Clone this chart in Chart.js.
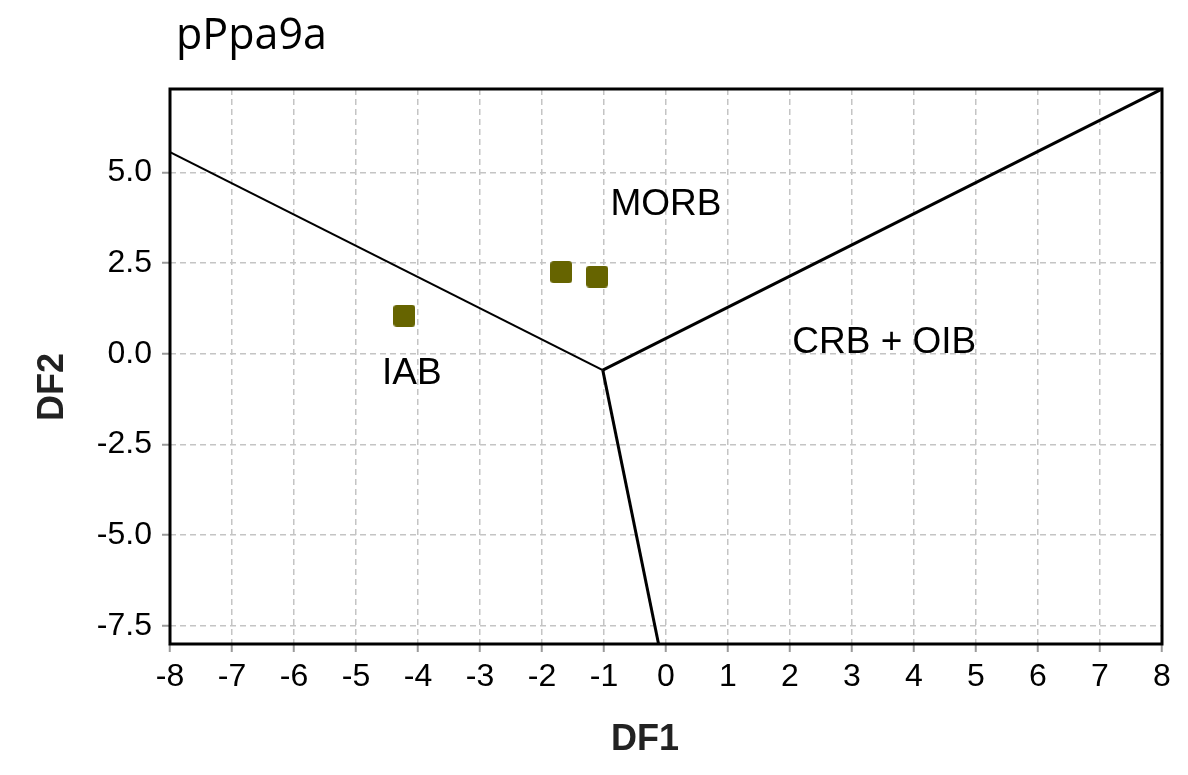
<!DOCTYPE html>
<html>
<head>
<meta charset="utf-8">
<script src="https://cdn.jsdelivr.net/npm/chart.js@4"></script>
<style>
  html, body { margin: 0; padding: 0; background: #fff; }
  canvas { display: block; }
</style>
</head>
<body>
<canvas id="myChart" width="1188" height="775"></canvas>
<script>
// samples (DF1, DF2)
var sampleDF1 = [-4.22, -1.69, -1.11];
var sampleDF2 = [1.05, 2.25, 2.13];

// field boundaries, all three meet at one junction
var junction = [-1.02, -0.45];
var boundaryLeft = [[-8, 5.56], junction];
var boundaryRight = [junction, [8, 7.3]];
var boundaryBottom = [junction, [-0.12, -8]];

// field names and where they sit (data units)
var fieldNames = ['MORB', 'IAB', 'CRB + OIB'];
var fieldX = [0.0, -4.10, 3.52];
var fieldY = [4.12, -0.56, 0.31];

var xTicks = [-8, -7, -6, -5, -4, -3, -2, -1, 0, 1, 2, 3, 4, 5, 6, 7, 8];
var yTicks = [-7.5, -5, -2.5, 0, 2.5, 5];

function toXY(pairs) {
  return pairs.map(function (p) { return { x: p[0], y: p[1] }; });
}

var samplePoints = sampleDF1.map(function (v, i) { return { x: v, y: sampleDF2[i] }; });

// small rounded square marker
var marker = document.createElement('canvas');
marker.width = 22;
marker.height = 22;
(function () {
  var m = marker.getContext('2d');
  m.fillStyle = '#666400';
  m.beginPath();
  m.roundRect(0, 0, 22, 22, 3.5);
  m.fill();
})();

var tickFont = { family: "'Liberation Sans', Arial, sans-serif", size: 32 };

var framePlugin = {
  id: 'frameAndText',
  afterDraw: function (chart) {
    var c = chart.ctx, a = chart.chartArea;
    var xs = chart.scales.x, ys = chart.scales.y;
    c.save();
    c.strokeStyle = '#000';
    c.lineWidth = 3;
    c.strokeRect(a.left, a.top, a.right - a.left, a.bottom - a.top);

    c.fillStyle = '#000';
    c.font = "37px 'Liberation Sans', Arial, sans-serif";
    c.textAlign = 'center';
    c.textBaseline = 'middle';
    fieldNames.forEach(function (n, i) {
      c.fillText(n, xs.getPixelForValue(fieldX[i]), ys.getPixelForValue(fieldY[i]));
    });

    c.textAlign = 'left';
    c.textBaseline = 'alphabetic';
    c.font = "43px 'Open Sans', sans-serif";
    c.fillText('pPpa9a', 176, 49);

    c.fillStyle = '#222';
    c.font = "bold 36px 'Liberation Sans', Arial, sans-serif";
    c.textAlign = 'center';
    c.textBaseline = 'middle';
    c.fillText('DF1', 645, 740);
    c.translate(53, 387);
    c.rotate(-Math.PI / 2);
    c.fillText('DF2', 0, 0);
    c.restore();
  }
};

var ctx = document.getElementById('myChart');
var myChart = new Chart(ctx, {
  type: 'scatter',
  data: {
    datasets: [
      {
        data: samplePoints,
        pointStyle: marker,
        pointRadius: 11,
        pointHoverRadius: 11
      },
      { data: toXY(boundaryLeft), showLine: true, borderColor: '#000', borderWidth: 2.2, pointRadius: 0 },
      { data: toXY(boundaryRight), showLine: true, borderColor: '#000', borderWidth: 3, pointRadius: 0 },
      { data: toXY(boundaryBottom), showLine: true, borderColor: '#000', borderWidth: 3, pointRadius: 0 }
    ]
  },
  options: {
    responsive: false,
    animation: false,
    layout: { padding: { top: 89, right: 26, left: 0, bottom: 0 } },
    plugins: {
      legend: { display: false },
      tooltip: { enabled: false }
    },
    scales: {
      x: {
        type: 'linear',
        min: -8,
        max: 8,
        afterBuildTicks: function (s) { s.ticks = xTicks.map(function (v) { return { value: v }; }); },
        afterFit: function (s) { s.height = 131; },
        ticks: { font: tickFont, color: '#000', padding: 6, autoSkip: false, maxRotation: 0 },
        grid: { color: '#c4c4c4', lineWidth: 1.5, tickColor: '#9a9a9a', tickWidth: 2, tickLength: 8 },
        border: { display: false, dash: [6, 4] }
      },
      y: {
        type: 'linear',
        min: -8,
        max: 7.3,
        afterBuildTicks: function (s) { s.ticks = yTicks.map(function (v) { return { value: v }; }); },
        afterFit: function (s) { s.width = 170; },
        ticks: {
          font: tickFont, color: '#000', padding: 10, autoSkip: false,
          callback: function (v) { return v.toFixed(1); }
        },
        grid: { color: '#c4c4c4', lineWidth: 1.5, tickColor: '#9a9a9a', tickWidth: 2, tickLength: 8 },
        border: { display: false, dash: [6, 4] }
      }
    }
  },
  plugins: [framePlugin]
});
</script>
</body>
</html>
